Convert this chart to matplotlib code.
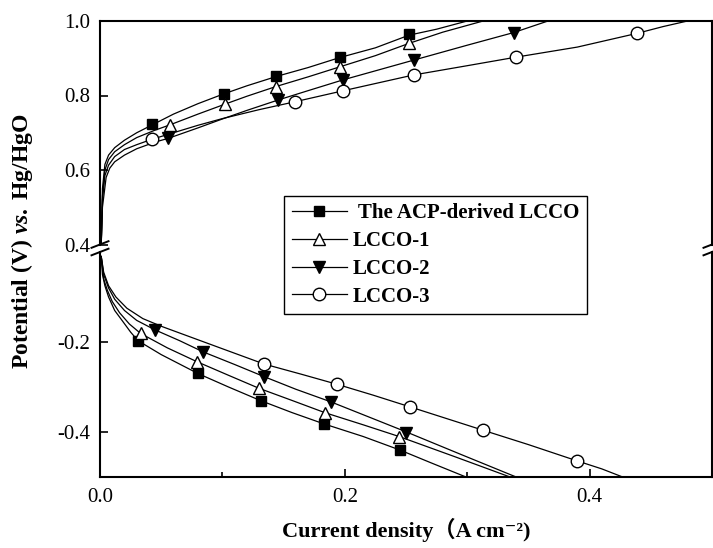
import matplotlib
matplotlib.use("Agg")
import matplotlib.pyplot as plt
from matplotlib.lines import Line2D
from matplotlib.ticker import FixedLocator

labels = ["The ACP-derived LCCO", "LCCO-1", "LCCO-2", "LCCO-3"]

# upper (anodic) branch, potential in V vs. Hg/HgO, current density in A cm-2
acp_up_x = [0.001, 0.002, 0.004, 0.007, 0.012, 0.02, 0.03, 0.042, 0.06, 0.08, 0.10,
            0.12, 0.145, 0.17, 0.196, 0.225, 0.2525, 0.275, 0.30]
acp_up_v = [0.40, 0.55, 0.615, 0.64, 0.66, 0.68, 0.70, 0.72, 0.75, 0.778, 0.803,
            0.826, 0.852, 0.875, 0.902, 0.928, 0.962, 0.978, 1.0]
lcco1_up_x = [0.001, 0.002, 0.004, 0.007, 0.012, 0.02, 0.03, 0.045, 0.057, 0.08, 0.1023,
              0.12, 0.1437, 0.17, 0.196, 0.225, 0.2525, 0.28, 0.313]
lcco1_up_v = [0.40, 0.53, 0.60, 0.628, 0.649, 0.668, 0.687, 0.707, 0.721, 0.75, 0.777,
              0.798, 0.824, 0.85, 0.877, 0.907, 0.94, 0.97, 1.0]
lcco2_up_x = [0.001, 0.002, 0.005, 0.008, 0.012, 0.02, 0.03, 0.045, 0.0558, 0.08, 0.10,
              0.12, 0.1456, 0.17, 0.1986, 0.2563, 0.30, 0.338, 0.366]
lcco2_up_v = [0.40, 0.50, 0.58, 0.605, 0.622, 0.64, 0.657, 0.675, 0.685, 0.713, 0.737,
              0.76, 0.788, 0.813, 0.842, 0.895, 0.935, 0.969, 1.0]
lcco3_up_x = [0.001, 0.002, 0.004, 0.007, 0.012, 0.02, 0.03, 0.042, 0.06, 0.08, 0.10,
              0.13, 0.159, 0.199, 0.256, 0.30, 0.34, 0.39, 0.439, 0.46, 0.48]
lcco3_up_v = [0.40, 0.52, 0.585, 0.613, 0.636, 0.655, 0.668, 0.682, 0.70, 0.72, 0.738,
              0.762, 0.783, 0.813, 0.855, 0.88, 0.903, 0.93, 0.967, 0.985, 1.0]

# marker positions on the upper branch
acp_up_mx = [0.0422, 0.1012, 0.1437, 0.1959, 0.2525]
acp_up_mv = [0.7235, 0.804, 0.852, 0.9026, 0.965]
lcco1_up_mx = [0.0571, 0.1023, 0.1437, 0.1959, 0.2525]
lcco1_up_mv = [0.7208, 0.7772, 0.8236, 0.8773, 0.940]
lcco2_up_mx = [0.0558, 0.1456, 0.1986, 0.2563, 0.338]
lcco2_up_mv = [0.685, 0.788, 0.8416, 0.8953, 0.9686]
lcco3_up_mx = [0.0422, 0.1592, 0.1986, 0.2563, 0.340, 0.439]
lcco3_up_mv = [0.6824, 0.7834, 0.8129, 0.855, 0.9026, 0.967]

# lower (cathodic) branch
acp_dn_x = [0.001, 0.002, 0.004, 0.007, 0.012, 0.018, 0.025, 0.031, 0.05, 0.08, 0.105,
            0.131, 0.157, 0.183, 0.215, 0.245, 0.27, 0.299]
acp_dn_v = [-0.01, -0.05, -0.075, -0.10, -0.13, -0.152, -0.178, -0.197, -0.228, -0.27, -0.30,
            -0.33, -0.357, -0.382, -0.41, -0.44, -0.468, -0.5]
lcco1_dn_x = [0.001, 0.003, 0.006, 0.01, 0.016, 0.024, 0.0332, 0.055, 0.0794, 0.105, 0.13,
              0.157, 0.1837, 0.215, 0.2443, 0.29, 0.335]
lcco1_dn_v = [-0.01, -0.06, -0.085, -0.11, -0.135, -0.16, -0.181, -0.213, -0.244, -0.274, -0.303,
              -0.33, -0.357, -0.384, -0.41, -0.455, -0.5]
lcco2_dn_x = [0.001, 0.003, 0.007, 0.012, 0.02, 0.03, 0.0449, 0.065, 0.0843, 0.11, 0.1341,
              0.16, 0.1886, 0.22, 0.2504, 0.295, 0.34]
lcco2_dn_v = [-0.01, -0.05, -0.08, -0.105, -0.13, -0.152, -0.173, -0.197, -0.222, -0.25, -0.277,
              -0.305, -0.333, -0.367, -0.40, -0.45, -0.5]
lcco3_dn_x = [0.001, 0.003, 0.007, 0.013, 0.022, 0.035, 0.05, 0.07, 0.10, 0.1341, 0.165,
              0.1937, 0.223, 0.2531, 0.283, 0.3129, 0.35, 0.3896, 0.41, 0.427]
lcco3_dn_v = [-0.01, -0.045, -0.075, -0.10, -0.125, -0.148, -0.165, -0.185, -0.215, -0.249, -0.272,
              -0.294, -0.318, -0.344, -0.37, -0.396, -0.428, -0.464, -0.482, -0.5]

# marker positions on the lower branch
acp_dn_mx = [0.0313, 0.0802, 0.1314, 0.1831, 0.2449]
acp_dn_mv = [-0.197, -0.2696, -0.3304, -0.3822, -0.44]
lcco1_dn_mx = [0.0332, 0.0794, 0.130, 0.1837, 0.2443]
lcco1_dn_mv = [-0.1807, -0.2438, -0.3029, -0.3571, -0.4104]
lcco2_dn_mx = [0.0449, 0.0843, 0.1341, 0.1886, 0.2504]
lcco2_dn_mv = [-0.1733, -0.2216, -0.2771, -0.3327, -0.4029]
lcco3_dn_mx = [0.1341, 0.1937, 0.2531, 0.3129, 0.3896]
lcco3_dn_mv = [-0.2489, -0.294, -0.3438, -0.3956, -0.4644]

x_major = [0.0, 0.2, 0.4]
x_minor = [0.1, 0.3]
top_yticks = [0.4, 0.6, 0.8, 1.0]
bot_yticks = [-0.4, -0.2]

plt.rcParams["font.family"] = ["Liberation Serif", "Noto Sans CJK SC", "DejaVu Serif"]
plt.rcParams["axes.unicode_minus"] = False
plt.rcParams["mathtext.fontset"] = "custom"
plt.rcParams["mathtext.it"] = "Liberation Serif:italic:bold"
plt.rcParams["mathtext.rm"] = "Liberation Serif:bold"

W, H = 713, 548
fig = plt.figure(figsize=(W / 100, H / 100), dpi=100, facecolor="white")
left, right = 100 / W, 712 / W
ax_top = fig.add_axes([left, 1 - 244.5 / H, right - left, (244.5 - 21) / H])
ax_bot = fig.add_axes([left, 1 - 477 / H, right - left, (477 - 252) / H])

styles = [
    dict(marker="s", mfc="black", ms=7),
    dict(marker="^", mfc="white", ms=8),
    dict(marker="v", mfc="black", ms=8.5),
    dict(marker="o", mfc="white", ms=9),
]
up = [(acp_up_x, acp_up_v, acp_up_mx, acp_up_mv),
      (lcco1_up_x, lcco1_up_v, lcco1_up_mx, lcco1_up_mv),
      (lcco2_up_x, lcco2_up_v, lcco2_up_mx, lcco2_up_mv),
      (lcco3_up_x, lcco3_up_v, lcco3_up_mx, lcco3_up_mv)]
dn = [(acp_dn_x, acp_dn_v, acp_dn_mx, acp_dn_mv),
      (lcco1_dn_x, lcco1_dn_v, lcco1_dn_mx, lcco1_dn_mv),
      (lcco2_dn_x, lcco2_dn_v, lcco2_dn_mx, lcco2_dn_mv),
      (lcco3_dn_x, lcco3_dn_v, lcco3_dn_mx, lcco3_dn_mv)]

for ax, branch in ((ax_top, up), (ax_bot, dn)):
    for (cx, cv, mx, mv), st in zip(branch, styles):
        ax.plot(cx, cv, color="black", lw=0.9)
        ax.plot(mx, mv, ls="none", color="black", mec="black", mew=1.0, **st)
    ax.set_xlim(0, 0.5)
    ax.xaxis.set_major_locator(FixedLocator(x_major))
    ax.xaxis.set_minor_locator(FixedLocator(x_minor))
    ax.tick_params(which="both", direction="in", labelsize=15, width=1.2)
    ax.tick_params(which="major", length=6)
    ax.tick_params(which="minor", length=3.5)
    ax.tick_params(axis="y", pad=7)
    ax.tick_params(axis="x", pad=8)
    for sp in ax.spines.values():
        sp.set_linewidth(1.5)

ax_top.set_ylim(0.4, 1.0)
ax_top.set_yticks(top_yticks)
ax_top.set_yticklabels([f"{t:.1f}" for t in top_yticks])
ax_top.spines["bottom"].set_visible(False)
ax_top.tick_params(axis="x", which="both", bottom=False, labelbottom=False)

ax_bot.set_ylim(-0.5, 0.0)
ax_bot.set_yticks(bot_yticks)
ax_bot.set_yticklabels([f"{t:.1f}" for t in bot_yticks])
ax_bot.set_xticklabels([f"{t:.1f}" for t in x_major])
ax_bot.spines["top"].set_visible(False)

# axis break marks
for ax, yb in ((ax_top, 0.0), (ax_bot, 1.0)):
    h_px = ax.get_position().height * H
    w_px = ax.get_position().width * W
    dx, dy = 8.5 / w_px, 3.3 / h_px
    for xb in (0.0, 1.0):
        ax.plot([xb - dx, xb + dx], [yb - dy, yb + dy], transform=ax.transAxes,
                color="black", lw=1.4, clip_on=False)

handles = [Line2D([], [], color="black", lw=0.9, mec="black", mew=1.0, **st) for st in styles]
leg_labels = [" " + labels[0]] + labels[1:]
fig.legend(handles, leg_labels, loc="upper left", bbox_to_anchor=(284 / W, 1 - 196 / H),
           borderaxespad=0, frameon=True, fancybox=False, edgecolor="black", framealpha=1,
           prop={"size": 15, "weight": "bold"}, handlelength=2.65, handletextpad=0.3,
           borderpad=0.36, labelspacing=0.37)

fig.text(22 / W, 1 - 241.5 / H, r"Potential (V) $\mathit{vs.}\;$Hg/HgO", rotation=90,
         ha="center", va="center", fontsize=17, fontweight="bold")
fig.text(406 / W, 1 - 530 / H, "Current density\uff08A cm\u207b\u00b2)",
         ha="center", va="center", fontsize=16, fontweight="bold")

fig.savefig("out.png", dpi=100)
